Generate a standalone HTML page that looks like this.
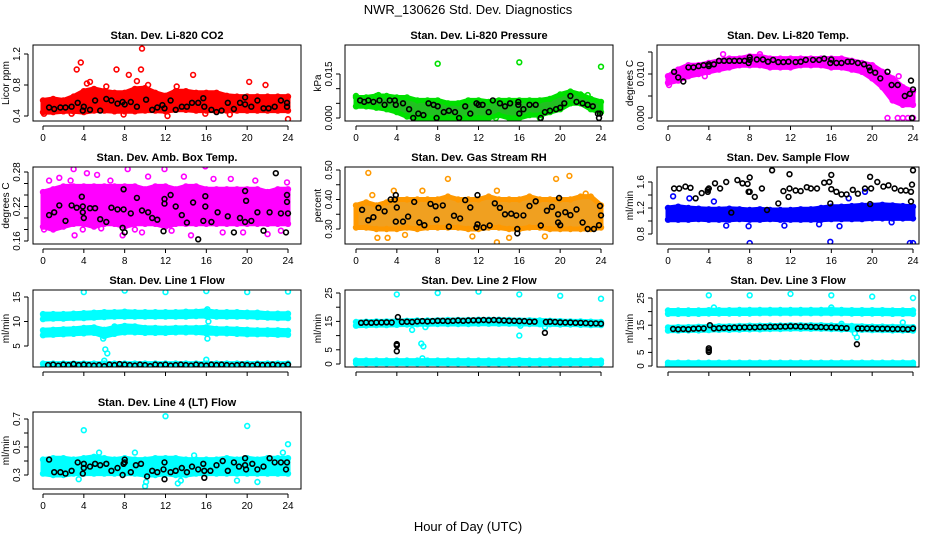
<!DOCTYPE html>
<html><head><meta charset="utf-8">
<style>
html,body{margin:0;padding:0;background:#fff;}
svg{display:block;font-family:"Liberation Sans",sans-serif;}
</style></head>
<body>
<svg id="chart" width="936" height="540" viewBox="0 0 936 540">
<text x="468" y="14" text-anchor="middle" font-size="13">NWR_130626  Std. Dev. Diagnostics</text>
<text x="468" y="531" text-anchor="middle" font-size="13">Hour of Day (UTC)</text>
</svg>
<script>
// ---------- data (hours 0..24 band limits, outliers, black points) ----------
const HOURS = [0,1,2,3,4,5,6,7,8,9,10,11,12,13,14,15,16,17,18,19,20,21,22,23,24];

const co2Lo = [0.45,0.45,0.46,0.46,0.45,0.47,0.47,0.46,0.46,0.46,0.47,0.47,0.46,0.48,0.48,0.47,0.47,0.47,0.47,0.47,0.47,0.47,0.47,0.47,0.47];
const co2Hi = [0.60,0.62,0.60,0.65,0.72,0.75,0.72,0.70,0.70,0.75,0.76,0.70,0.66,0.72,0.72,0.70,0.70,0.70,0.66,0.65,0.65,0.65,0.65,0.65,0.65];
const co2Out = [[3.3,1.0],[3.7,1.09],[7.2,1.0],[8.4,0.93],[9.6,1.0],[9.7,1.27],[9.2,0.85],[14.7,0.93],[20.2,0.84],[21.8,0.8],[24,0.36],[12.2,0.4],[7.9,0.42],[18.3,0.42],[4.3,0.82],[4.6,0.84],[6.2,0.78],[0.1,0.43],[2.8,0.43],[15.9,0.43],[10.3,0.8],[13.1,0.78]];
const co2Blk = [[0.6,0.51],[1.1,0.49],[1.7,0.51],[2.2,0.51],[2.8,0.52],[3.4,0.57],[3.9,0.47],[4,0.52],[4.6,0.48],[5.1,0.6],[5.6,0.47],[6.2,0.62],[6.7,0.6],[7.3,0.56],[7.8,0.58],[8,0.55],[8.6,0.58],[9.2,0.52],[10.1,0.61],[10.7,0.48],[11.2,0.51],[11.7,0.54],[11.9,0.5],[12.5,0.6],[13,0.48],[13.6,0.52],[14.1,0.52],[14.6,0.57],[15.2,0.57],[15.7,0.63],[15.8,0.52],[16.5,0.48],[17,0.45],[17.5,0.47],[18.1,0.57],[18.7,0.49],[19.3,0.57],[19.8,0.55],[19.8,0.64],[20.4,0.52],[21,0.6],[21.6,0.5],[22.1,0.5],[22.7,0.52],[23.3,0.6],[23.9,0.52],[23.9,0.57]];

const presLo = [0.004,0.004,0.0035,0.003,0.002,0.0005,0,0,0,0,0,0,0,0,0.001,0,0,0.001,0.001,0.002,0.003,0.005,0.005,0.003,0.002];
const presHi = [0.007,0.007,0.0075,0.0075,0.007,0.007,0.006,0.006,0.006,0.005,0.005,0.006,0.006,0.0055,0.006,0.006,0.006,0.006,0.006,0.0065,0.008,0.009,0.008,0.0065,0.0055];
const presOut = [[8,0.0185],[16,0.019],[24,0.0175],[0,0.0075],[2.2,0.0078],[20.8,0.0082],[22.7,0.0078],[13.7,0],[18,0],[15.7,0]];
const presBlk = [[0.4,0.006],[0.8,0.0055],[1.2,0.006],[1.7,0.0055],[2.3,0.006],[2.8,0.0045],[3.3,0.006],[3.8,0.006],[3.9,0.0045],[4.6,0.005],[5.2,0.003],[5.6,0],[6.1,0.0015],[6.6,0.001],[7.1,0.005],[7.6,0.0045],[7.9,0],[8,0.004],[8.6,0.002],[9.1,0.0025],[9.7,0.002],[10.1,0],[10.7,0.004],[11.2,0.0015],[11.8,0.005],[12,0.0045],[12.4,0.0045],[13,0.002],[13.4,0.006],[14.1,0.005],[14.6,0.004],[15.1,0.005],[15.9,0.0055],[15.9,0.0045],[16,0.0015],[16.4,0.003],[17,0.0045],[17.6,0.0045],[18.1,0],[18.5,0.002],[19,0.0025],[19.6,0.003],[20,0.0035],[20.4,0.005],[21,0.0075],[21.6,0.0055],[22.2,0.005],[22.7,0.0045],[23.2,0.004],[23.7,0.0015],[23.8,0],[23.9,0.0015]];

const tempLo = [0.008,0.0085,0.0095,0.0100,0.0105,0.011,0.0115,0.012,0.012,0.012,0.0115,0.0115,0.0115,0.012,0.012,0.012,0.0115,0.0115,0.011,0.0105,0.009,0.007,0.004,0.003,0.003];
const tempHi = [0.0095,0.011,0.012,0.012,0.0125,0.013,0.0135,0.0135,0.014,0.014,0.0135,0.0135,0.0135,0.0135,0.0135,0.0135,0.0135,0.0135,0.013,0.0125,0.012,0.0105,0.009,0.007,0.006];
const tempOut = [[5.4,0.0145],[21.5,0],[22.5,0],[23,0],[23.5,0],[24,0],[22.6,0.0095],[9,0.0145],[0.1,0.0075],[3.6,0.0095]];
const tempBlk = [[0.6,0.0105],[1,0.0092],[1.5,0.0083],[2,0.0115],[2.5,0.0115],[3,0.0118],[3.5,0.012],[4,0.0122],[4,0.0118],[4.5,0.0122],[5,0.013],[5.5,0.013],[6,0.013],[6.5,0.013],[7,0.013],[7.5,0.013],[7.9,0.0125],[8,0.0138],[8,0.0132],[8.7,0.0133],[9.3,0.0133],[9.8,0.0128],[10.3,0.0132],[10.8,0.0127],[11.3,0.0127],[11.8,0.0128],[12.5,0.0127],[13,0.0128],[13.5,0.0132],[14.2,0.0132],[14.8,0.0132],[15.3,0.0135],[15.9,0.0125],[16,0.0133],[16.5,0.0125],[17,0.0125],[17.6,0.0128],[18,0.0128],[18.6,0.0125],[19.2,0.0122],[19.7,0.0115],[19.8,0.0108],[20.3,0.0103],[20.8,0.009],[21.5,0.0105],[21.9,0.0075],[22.5,0.0075],[23.2,0.005],[23.7,0.0055],[23.8,0.0085],[23.9,0],[24,0.0065]];

const ambLo = [0.185,0.18,0.185,0.19,0.19,0.185,0.19,0.19,0.185,0.19,0.19,0.19,0.185,0.19,0.19,0.19,0.19,0.19,0.19,0.19,0.19,0.19,0.19,0.19,0.19];
const ambHi = [0.245,0.25,0.255,0.255,0.255,0.255,0.255,0.255,0.255,0.255,0.25,0.255,0.255,0.25,0.255,0.255,0.25,0.25,0.25,0.25,0.25,0.25,0.245,0.25,0.25];
const ambOut = [[0.6,0.265],[1.6,0.27],[2.7,0.265],[3,0.285],[3.1,0.17],[3.9,0.18],[4.3,0.278],[5.3,0.275],[6.6,0.265],[7.8,0.17],[8.3,0.285],[9.7,0.175],[10.3,0.272],[11.9,0.285],[12.6,0.178],[13.8,0.272],[14.5,0.17],[15.9,0.29],[16.7,0.268],[17.6,0.175],[18.4,0.268],[19.6,0.175],[20.8,0.265],[22,0.172],[23.3,0.178],[23.9,0.262],[0.1,0.18],[5.7,0.182],[9,0.18]];
const ambBlk = [[0.6,0.205],[1.1,0.21],[1.6,0.222],[2.2,0.195],[2.8,0.222],[3.3,0.218],[3.8,0.237],[3.9,0.22],[3.9,0.21],[4,0.2],[4.6,0.217],[5.1,0.217],[5.6,0.198],[6.2,0.193],[6.7,0.218],[7.3,0.215],[7.8,0.183],[7.9,0.215],[7.9,0.25],[8,0.175],[8.6,0.208],[9.2,0.235],[9.7,0.213],[10.3,0.21],[10.7,0.2],[11.2,0.197],[11.8,0.177],[11.9,0.225],[11.9,0.233],[12.5,0.24],[13,0.22],[13.6,0.205],[14.1,0.192],[14.7,0.227],[15.2,0.163],[15.7,0.195],[15.9,0.238],[15.9,0.22],[16.5,0.193],[17.1,0.21],[18.1,0.203],[18.7,0.175],[19.3,0.2],[19.8,0.193],[19.8,0.247],[19.9,0.23],[20.4,0.195],[21,0.21],[21.6,0.178],[22.2,0.21],[22.8,0.278],[23.3,0.208],[23.8,0.175],[23.9,0.228],[23.9,0.24],[24,0.208]];

const rhLo = [0.305,0.305,0.30,0.30,0.30,0.305,0.30,0.305,0.305,0.305,0.305,0.30,0.30,0.305,0.305,0.30,0.30,0.305,0.305,0.30,0.30,0.30,0.30,0.30,0.305];
const rhHi = [0.38,0.39,0.38,0.39,0.40,0.40,0.40,0.40,0.40,0.41,0.40,0.40,0.40,0.41,0.40,0.40,0.40,0.41,0.40,0.40,0.40,0.40,0.41,0.41,0.38];
const rhOut = [[1.2,0.49],[9,0.47],[19.6,0.47],[20.9,0.48],[3.7,0.43],[6.5,0.43],[13.8,0.43],[13.8,0.255],[15,0.27],[4.8,0.28],[2.1,0.27],[3.1,0.27],[1.6,0.415],[11.4,0.275],[18.5,0.275],[22.5,0.42]];
const rhBlk = [[0.6,0.365],[1.2,0.33],[1.7,0.34],[2.2,0.372],[2.8,0.36],[3.4,0.4],[3.8,0.4],[3.9,0.415],[3.9,0.325],[4,0.373],[4.6,0.325],[5.1,0.342],[5.7,0.392],[6.2,0.322],[6.7,0.313],[7.3,0.385],[7.8,0.377],[7.9,0.332],[8.5,0.38],[9.1,0.308],[9.6,0.345],[10.2,0.336],[10.7,0.398],[11.2,0.373],[11.8,0.305],[11.9,0.415],[11.9,0.316],[12.5,0.305],[13.1,0.312],[13.6,0.387],[14.1,0.372],[14.6,0.35],[15.2,0.352],[15.7,0.346],[15.8,0.285],[15.8,0.3],[16.4,0.346],[17,0.378],[17.6,0.394],[18.1,0.312],[18.7,0.362],[19.2,0.375],[19.8,0.322],[19.8,0.35],[19.9,0.405],[20,0.313],[20.5,0.357],[21,0.347],[21.6,0.366],[22.2,0.322],[22.7,0.3],[23.3,0.3],[23.8,0.313],[23.9,0.378],[24,0.346]];

const sfLo = [1.02,1.02,1.02,1.03,1.02,1.02,1.02,1.03,1.02,1.02,1.03,1.02,1.02,1.02,1.02,1.02,1.03,1.03,1.03,1.03,1.04,1.04,1.04,1.04,1.04];
const sfHi = [1.2,1.22,1.2,1.19,1.18,1.18,1.19,1.18,1.17,1.18,1.17,1.17,1.17,1.18,1.18,1.2,1.22,1.22,1.23,1.24,1.24,1.25,1.24,1.23,1.22];
const sfOut = [[0.5,1.38],[8,0.66],[15.9,0.68],[23.7,0.66],[24,0.66],[19.3,1.45],[5.7,0.93],[11.4,0.93],[7.9,0.92],[16.8,0.92],[2.1,1.35],[4.5,1.3],[17.7,1.35],[14.8,0.95],[21.9,0.98]];
const sfBlk = [[0.6,1.5],[1.1,1.5],[1.7,1.53],[2.2,1.51],[2.7,1.35],[3.3,1.43],[3.9,1.48],[3.9,1.45],[4,1.5],[4.6,1.58],[5.1,1.5],[5.7,1.6],[6.2,1.13],[6.8,1.63],[7.3,1.58],[7.8,1.57],[7.9,1.45],[8,1.67],[8,1.45],[8.5,1.37],[9.2,1.5],[9.7,1.17],[10.2,1.78],[10.8,1.27],[11.3,1.46],[11.8,1.37],[11.9,1.72],[11.9,1.5],[12.5,1.47],[13,1.46],[13.6,1.52],[14,1.5],[14.6,1.5],[15.3,1.59],[15.8,1.6],[15.9,1.27],[16,1.71],[16,1.49],[16.5,1.45],[17,1.41],[17.5,1.41],[18.1,1.48],[18.6,1.42],[19.3,1.5],[19.8,1.26],[19.8,1.68],[19.9,1.5],[20.5,1.6],[21.1,1.53],[21.6,1.55],[22.2,1.5],[22.8,1.47],[23.3,1.47],[23.8,1.45],[23.8,1.3],[23.9,1.56],[24,1.78]];

const l1aLo = [10.5,10.6,10.6,10.7,10.7,10.8,10.9,11.0,11.0,11.0,11.0,11.0,11.0,11.0,11.0,11.1,11.1,11.0,11.0,11.0,11.0,10.9,10.8,10.7,10.7];
const l1aHi = [11.5,11.5,11.5,11.6,11.7,11.8,11.9,11.9,12.0,11.9,11.9,11.9,11.9,11.9,12.0,12.0,12.2,11.9,11.9,11.9,11.8,11.8,11.6,11.6,11.6];
const l1bLo = [7.2,7.3,7.4,7.5,7.6,7.7,7.0,7.5,7.8,7.8,7.7,7.7,7.7,7.8,7.8,7.8,7.6,7.6,7.6,7.5,7.4,7.4,7.4,7.3,7.3];
const l1bHi = [8.2,8.3,8.4,8.5,8.7,8.8,8.3,8.8,9.1,9.0,8.7,8.7,8.6,8.7,8.7,8.7,8.8,8.5,8.5,8.4,8.3,8.2,8.2,8.2,8.1];
const l1cLo = [0.6,0.6,0.6,0.6,0.6,0.6,0.6,0.6,0.6,0.6,0.6,0.6,0.6,0.6,0.6,0.6,0.6,0.6,0.6,0.6,0.6,0.6,0.6,0.6,0.6];
const l1cHi = [1.4,1.4,1.4,1.4,1.4,1.4,1.4,1.4,1.4,1.4,1.4,1.4,1.4,1.4,1.4,1.4,1.4,1.4,1.4,1.4,1.4,1.4,1.4,1.4,1.4];
const l1Out = [[4,16],[8,16.3],[12,16],[16,16.2],[20,16],[24,16.1],[5.9,6.5],[6.1,4.3],[6.3,3.5],[6.0,2.0],[16.1,6.5],[16,2.2],[16.2,10],[16.1,12.5],[7,9]];
const l1Blk = [[0.5,1.1],[1,1.2],[1.5,1.0],[2,1.2],[2.5,1.1],[3,1.3],[3.5,1.1],[4,1.2],[4.5,1.1],[5,1.0],[5.5,1.1],[6,0.9],[6.5,1.2],[7,1.1],[7.5,1.3],[8,1.2],[8.5,1.1],[9,1.0],[9.5,1.2],[10,1.1],[10.5,0.9],[11,1.2],[11.5,1.1],[12,1.2],[12.5,1.0],[13,1.1],[13.5,1.2],[14,1.1],[14.5,1.0],[15,1.2],[15.5,1.1],[16,1.0],[16.5,1.2],[17,1.1],[17.5,1.2],[18,1.1],[18.5,1.0],[19,1.1],[19.5,1.2],[20,1.1],[20.5,1.0],[21,1.2],[21.5,1.1],[22,1.1],[22.5,1.2],[23,1.1],[23.5,1.0],[24,1.2]];

const l2aLo = [13.5,13.6,13.7,13.7,13.8,13.9,14.0,14.0,14.1,14.1,14.1,14.1,14.2,14.2,14.2,14.2,14.1,14.1,14.0,14.0,13.9,13.9,13.8,13.7,13.7];
const l2aHi = [14.8,14.9,15.0,15.0,15.1,15.2,15.3,15.3,15.4,15.5,15.5,15.5,15.6,15.6,15.6,15.5,15.4,15.4,15.3,15.2,15.1,15.0,15.0,14.9,14.8];
const l2bLo = [0.2,0.2,0.2,0.2,0.2,0.2,0.2,0.2,0.2,0.2,0.2,0.2,0.2,0.2,0.2,0.2,0.2,0.2,0.2,0.2,0.2,0.2,0.2,0.2,0.2];
const l2bHi = [1.2,1.2,1.2,1.2,1.2,1.2,1.2,1.2,1.2,1.2,1.2,1.2,1.2,1.2,1.2,1.2,1.3,1.2,1.2,1.2,1.2,1.2,1.2,1.2,1.2];
const l2Out = [[4,24.5],[8,25],[12,25.5],[16,24.5],[20,24],[24,23],[6.4,7.2],[6.6,6.2],[6.5,2],[5.5,12],[16,10],[18.5,13],[16.1,13.5],[6.8,13]];
const l2Blk = [[0.5,14.5],[1,14.6],[1.5,14.5],[2,14.6],[2.5,14.6],[3,14.7],[3.5,14.6],[4,7],[4,6.5],[4,4.5],[4.1,16.5],[4.5,14.8],[5,14.9],[5.5,14.8],[6,15],[6.5,15.1],[7,15],[7.5,15.1],[8,15.2],[8.5,15.2],[9,15.1],[9.5,15.2],[10,15.3],[10.5,15.2],[11,15.3],[11.5,15.4],[12,15.4],[12.5,15.5],[13,15.4],[13.5,15.5],[14,15.4],[14.5,15.3],[15,15.2],[15.5,15.2],[16,15.1],[16.5,15.1],[17,14.9],[17.5,14.9],[18.5,11],[18.6,14.8],[19,14.9],[19.5,14.8],[20,14.7],[20.5,14.6],[21,14.6],[21.5,14.5],[22,14.5],[22.5,14.4],[23,14.3],[23.5,14.3],[24,14.2]];

const l3aLo = [19.2,19.2,19.2,19.2,19.3,19.3,19.3,19.3,19.3,19.4,19.4,19.4,19.4,19.4,19.4,19.4,19.4,19.4,19.3,19.3,19.3,19.3,19.2,19.2,19.2];
const l3aHi = [20.4,20.4,20.4,20.4,20.5,20.5,20.5,20.6,20.6,20.6,20.6,20.6,20.6,20.6,20.6,20.6,20.7,20.6,20.5,20.5,20.5,20.5,20.4,20.4,20.4];
const l3bLo = [13.0,13.0,13.1,13.1,13.2,13.3,13.3,13.4,13.5,13.5,13.6,13.6,13.7,13.7,13.7,13.7,13.6,13.5,13.4,13.3,13.2,13.2,13.1,13.1,13.0];
const l3bHi = [14.2,14.3,14.3,14.4,14.5,14.6,14.6,14.7,14.8,14.8,14.9,14.9,15.0,15.0,15.0,15.0,14.9,14.8,14.7,14.6,14.5,14.5,14.4,14.4,14.3];
const l3cLo = [0.3,0.3,0.3,0.3,0.3,0.3,0.3,0.3,0.3,0.3,0.3,0.3,0.3,0.3,0.3,0.3,0.3,0.3,0.3,0.3,0.3,0.3,0.3,0.3,0.3];
const l3cHi = [1.2,1.2,1.2,1.2,1.2,1.2,1.2,1.2,1.2,1.2,1.2,1.2,1.2,1.2,1.2,1.2,1.2,1.2,1.2,1.2,1.2,1.2,1.2,1.2,1.2];
const l3Out = [[4,26],[8,26],[12,26.5],[16,26],[20,25.5],[24,25],[18.5,10.5],[18.3,12],[16,21.5],[4.5,21.5],[23,16],[17,15.5]];
const l3Blk = [[0.5,13.6],[1,13.5],[1.5,13.6],[2,13.5],[2.5,13.7],[3,13.8],[3.5,13.8],[4,6.5],[4,5.8],[4,5.2],[4.1,15],[4.5,13.8],[5,13.9],[5.5,14],[6,14],[6.5,14.1],[7,14.1],[7.5,14.2],[8,14.2],[8.5,14.2],[9,14.3],[9.5,14.3],[10,14.4],[10.5,14.4],[11,14.5],[11.5,14.5],[12,14.6],[12.5,14.6],[13,14.5],[13.5,14.5],[14,14.4],[14.5,14.3],[15,14.3],[15.5,14.2],[16,14.2],[16.5,14.1],[17,14.0],[17.5,13.9],[18.5,8],[18.6,13.8],[19,13.8],[19.5,13.8],[20,13.8],[20.5,13.7],[21,13.7],[21.5,13.7],[22,13.6],[22.5,13.6],[23,13.6],[23.5,13.5],[24,13.8]];

const l4Lo = [0.31,0.30,0.30,0.31,0.31,0.31,0.31,0.31,0.31,0.31,0.30,0.30,0.31,0.30,0.30,0.31,0.31,0.31,0.31,0.31,0.31,0.31,0.31,0.31,0.31];
const l4Hi = [0.41,0.42,0.42,0.41,0.42,0.43,0.42,0.41,0.42,0.41,0.41,0.42,0.42,0.42,0.41,0.41,0.41,0.41,0.42,0.41,0.42,0.41,0.42,0.42,0.42];
const l4Out = [[4,0.62],[12,0.72],[20,0.65],[24,0.52],[10,0.22],[10.1,0.25],[21,0.25],[19,0.26],[3.5,0.27],[9,0.46],[5.5,0.46],[14.8,0.44],[23.5,0.46],[13.5,0.26],[13.2,0.24],[0.4,0.39]];
const l4Blk = [[0.6,0.41],[1.1,0.32],[1.7,0.32],[2.2,0.31],[2.8,0.33],[3.4,0.39],[3.9,0.31],[4,0.38],[4,0.35],[4.6,0.36],[5.1,0.38],[5.6,0.37],[6.2,0.38],[6.7,0.33],[7.3,0.35],[7.8,0.3],[7.9,0.38],[8,0.41],[8,0.39],[8.6,0.32],[9.1,0.37],[9.6,0.38],[10.2,0.29],[10.7,0.33],[11.2,0.32],[11.8,0.34],[11.9,0.27],[11.9,0.39],[12.5,0.32],[13,0.33],[13.6,0.35],[14.1,0.32],[14.6,0.36],[15.2,0.34],[15.7,0.38],[15.8,0.33],[15.8,0.28],[16.4,0.33],[17,0.37],[17.6,0.4],[18.1,0.33],[18.7,0.39],[19.2,0.36],[19.8,0.42],[19.8,0.37],[19.9,0.34],[20.5,0.38],[21,0.34],[21.6,0.36],[22.2,0.42],[22.7,0.39],[23.3,0.39],[23.8,0.34],[23.9,0.39]];

const X_TICKS = [0,4,8,12,16,20,24];

// ---------- rendering ----------
const NS = 'http://www.w3.org/2000/svg';
const svg = document.getElementById('chart');
function mk(tag, attrs, parent){const e=document.createElementNS(NS,tag);for(const k in attrs)e.setAttribute(k,attrs[k]);(parent||svg).appendChild(e);return e;}

const COLS = [{bl:33,br:301,x0:43,x24:288},{bl:345,br:613,x0:356,x24:601},{bl:657,br:919,x0:668,x24:913}];
const ROWS = [{bt:45,bb:121},{bt:167,bb:244},{bt:290,bb:367},{bt:412,bb:489}];

function panel(p){
  const C=COLS[p.col], R=ROWS[p.row];
  const g=mk('g',{});
  
  
  const sx=h=>C.x0+h*(C.x24-C.x0)/24;
  const sy=v=>p.ya[1]+(v-p.ya[0])*(p.yb[1]-p.ya[1])/(p.yb[0]-p.ya[0]);
  const clipId='clip'+p.name;
  const cp=mk('clipPath',{id:clipId},g); mk('rect',{x:C.bl,y:R.bt,width:C.br-C.bl,height:R.bb-R.bt},cp);
  const marks=mk('g',{'clip-path':'url(#'+clipId+')'},g);
  function circ(h,v,col,nm){
    const c=mk('circle',{cx:sx(h).toFixed(1),cy:sy(v).toFixed(1),r:2.4,fill:'none',stroke:col,'stroke-width':1.6},marks);
    
    
  }
  (p.bands||[]).forEach(([lo,hi])=>{
    let d='M'+HOURS.map((h,i)=>sx(h).toFixed(1)+','+sy(hi[i]).toFixed(1)).join('L');
    d+='L'+HOURS.slice().reverse().map((h,j)=>{const i=HOURS.length-1-j;return sx(h).toFixed(1)+','+sy(lo[i]).toFixed(1);}).join('L')+'Z';
    const b=mk('path',{d:d,fill:p.fill||p.color,stroke:p.color,'stroke-width':5,'stroke-linejoin':'round'},marks);
    
    
    HOURS.forEach((h,i)=>{circ(h,lo[i],p.color,'data-point');circ(h,hi[i],p.color,'data-point');});
  });
  (p.out||[]).forEach(([h,v])=>circ(h,v,p.color,'outlier-point'));
  (p.blk||[]).forEach(([h,v])=>circ(h,v,'#000','reference-point'));
  // box
  const bx=mk('rect',{x:C.bl,y:R.bt,width:C.br-C.bl,height:R.bb-R.bt,fill:'none',stroke:'#000','stroke-width':1},g);
  
  
  // title
  const t=mk('text',{x:(C.bl+C.br)/2,y:R.bt-6,'text-anchor':'middle','font-size':11,'font-weight':'bold'},g); t.textContent=p.title;
  
  
  // x axis
  mk('line',{x1:sx(0),x2:sx(24),y1:R.bb+5,y2:R.bb+5,stroke:'#000'},g);
  X_TICKS.forEach(h=>{
    mk('line',{x1:sx(h),x2:sx(h),y1:R.bb+5,y2:R.bb+9,stroke:'#000'},g);
    if(p.row!==2){const l=mk('text',{x:sx(h),y:R.bb+20,'text-anchor':'middle','font-size':10},g);l.textContent=h;
    
    }
  });
  // y axis
  const ax=C.bl-5;
  mk('line',{x1:ax,x2:ax,y1:sy(p.yt[0]),y2:sy(p.yt[p.yt.length-1]),stroke:'#000'},g);
  p.yt.forEach(v=>mk('line',{x1:ax-4,x2:ax,y1:sy(v),y2:sy(v),stroke:'#000'},g));
  p.yl.forEach(([v,s])=>{const l=mk('text',{x:ax-8,y:sy(v),'text-anchor':'middle','font-size':10,transform:'rotate(-90 '+(ax-8)+' '+sy(v)+')'},g);l.textContent=s;
    
    });
  const yl=mk('text',{x:C.bl-24,y:(R.bt+R.bb)/2,'text-anchor':'middle','font-size':10,transform:'rotate(-90 '+(C.bl-24)+' '+(R.bt+R.bb)/2+')'},g); yl.textContent=p.ylab;
  
  
}

panel({name:'panel-co2',col:0,row:0,title:'Stan. Dev. Li-820 CO2',ylab:'Licor ppm',color:'#ff0000',ya:[0.4,116],yb:[1.2,54],yt:[0.4,0.8,1.2],yl:[[0.4,'0.4'],[0.8,'0.8'],[1.2,'1.2']],bands:[[co2Lo,co2Hi]],out:co2Out,blk:co2Blk});
panel({name:'panel-pressure',col:1,row:0,title:'Stan. Dev. Li-820 Pressure',ylab:'kPa',color:'#00e000',fill:'#22c022',ya:[0,118],yb:[0.015,74],yt:[0,0.005,0.01,0.015],yl:[[0,'0.000'],[0.015,'0.015']],bands:[[presLo,presHi]],out:presOut,blk:presBlk});
panel({name:'panel-temp',col:2,row:0,title:'Stan. Dev. Li-820 Temp.',ylab:'degrees C',color:'#ff00ff',ya:[0,118],yb:[0.01,74],yt:[0,0.005,0.01,0.015],yl:[[0,'0.000'],[0.01,'0.010']],bands:[[tempLo,tempHi]],out:tempOut,blk:tempBlk});
panel({name:'panel-amb-box-temp',col:0,row:1,title:'Stan. Dev. Amb. Box Temp.',ylab:'degrees C',color:'#ff00ff',ya:[0.16,241],yb:[0.28,172],yt:[0.16,0.18,0.2,0.22,0.24,0.26,0.28],yl:[[0.16,'0.16'],[0.22,'0.22'],[0.28,'0.28']],bands:[[ambLo,ambHi]],out:ambOut,blk:ambBlk});
panel({name:'panel-gas-rh',col:1,row:1,title:'Stan. Dev. Gas Stream RH',ylab:'percent',color:'#ff9900',fill:'#f0a020',ya:[0.3,229],yb:[0.5,170],yt:[0.3,0.35,0.4,0.45,0.5],yl:[[0.3,'0.30'],[0.4,'0.40'],[0.5,'0.50']],bands:[[rhLo,rhHi]],out:rhOut,blk:rhBlk});
panel({name:'panel-sample-flow',col:2,row:1,title:'Stan. Dev. Sample Flow',ylab:'ml/min',color:'#0000ff',ya:[0.8,234],yb:[1.6,182],yt:[0.8,1.0,1.2,1.4,1.6],yl:[[0.8,'0.8'],[1.2,'1.2'],[1.6,'1.6']],bands:[[sfLo,sfHi]],out:sfOut,blk:sfBlk});
panel({name:'panel-line1-flow',col:0,row:2,title:'Stan. Dev. Line 1 Flow',ylab:'ml/min',color:'#00ffff',ya:[5,346],yb:[15,297],yt:[5,10,15],yl:[[5,'5'],[10,'10'],[15,'15']],bands:[[l1aLo,l1aHi],[l1bLo,l1bHi],[l1cLo,l1cHi]],out:l1Out,blk:l1Blk});
panel({name:'panel-line2-flow',col:1,row:2,title:'Stan. Dev. Line 2 Flow',ylab:'ml/min',color:'#00ffff',ya:[0,364],yb:[25,293],yt:[0,5,10,15,20,25],yl:[[0,'0'],[5,'5'],[15,'15'],[25,'25']],bands:[[l2aLo,l2aHi],[l2bLo,l2bHi]],out:l2Out,blk:l2Blk});
panel({name:'panel-line3-flow',col:2,row:2,title:'Stan. Dev. Line 3 Flow',ylab:'ml/min',color:'#00ffff',ya:[0,366],yb:[25,298],yt:[0,5,10,15,20,25],yl:[[0,'0'],[5,'5'],[15,'15'],[25,'25']],bands:[[l3aLo,l3aHi],[l3bLo,l3bHi],[l3cLo,l3cHi]],out:l3Out,blk:l3Blk});
panel({name:'panel-line4-flow',col:0,row:3,title:'Stan. Dev. Line 4 (LT) Flow',ylab:'ml/min',color:'#00ffff',ya:[0.3,475],yb:[0.7,419],yt:[0.3,0.4,0.5,0.6,0.7],yl:[[0.3,'0.3'],[0.5,'0.5'],[0.7,'0.7']],bands:[[l4Lo,l4Hi]],out:l4Out,blk:l4Blk});
</script>
</body></html>
